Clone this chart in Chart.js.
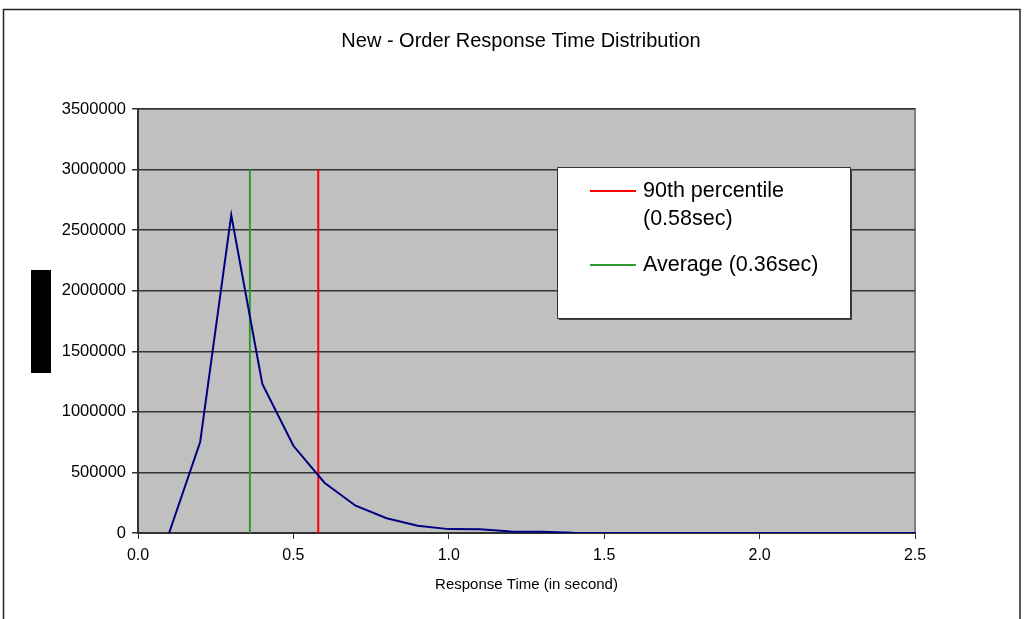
<!DOCTYPE html>
<html><head><meta charset="utf-8">
<script src="https://cdn.jsdelivr.net/npm/chart.js@4.4.0/dist/chart.umd.min.js"></script>
<style>html,body{margin:0;padding:0;background:#fff;overflow:hidden}#wrap{width:1024px;height:619px;position:relative}</style>
</head><body><div id="wrap"><canvas id="c" width="1024" height="619"></canvas></div>
<script>
// ---- data ----
const responseTimes = [0.1,0.2,0.3,0.4,0.5,0.6,0.7,0.8,0.9,1.0,1.1,1.2,1.3,1.4,1.5,1.6,1.7,1.8,1.9,2.0,2.1,2.2,2.3,2.4,2.5];
const transactionCounts = [0,750000,2625000,1230000,720000,415000,225000,122000,60000,32000,30000,12000,10000,1500,0,0,0,0,0,0,0,0,0,0,0];
const percentile90 = 0.58;
const averageTime = 0.36;
const markerTop = 3000000;
const yTickValues = [0,500000,1000000,1500000,2000000,2500000,3000000,3500000];
const xTickValues = [0.0,0.5,1.0,1.5,2.0,2.5];
const chartTitle = "New - Order Response Time Distribution";
const xAxisTitle = "Response Time (in second)";
const legendLabels = [["90th percentile","(0.58sec)"],["Average (0.36sec)"]];
const markerColors = ["#ff0000","#339933"];

const FONT = '"Liberation Sans", Arial, sans-serif';

const curve = responseTimes.map((x,i)=>({x, y: transactionCounts[i]}));
const markerValues = [percentile90, averageTime];

const decorPlugin = {
  id: 'decor',
  beforeDraw(chart) {
    const ctx = chart.ctx, a = chart.chartArea;
    ctx.save();
    ctx.fillStyle = '#fff';
    ctx.fillRect(0,0,chart.width,chart.height);
    ctx.strokeStyle = '#222';
    ctx.lineWidth = 1.5;
    ctx.strokeRect(3.5, 9.5, 1016.5, 700);
    ctx.fillStyle = '#c0c0c0';
    ctx.fillRect(a.left, a.top, a.right-a.left, a.bottom-a.top);
    ctx.strokeStyle = '#808080';
    ctx.lineWidth = 2;
    ctx.strokeRect(a.left, a.top, a.right-a.left, a.bottom-a.top);
    ctx.restore();
  },
  afterDraw(chart) {
    const ctx = chart.ctx;
    ctx.save();
    // title
    ctx.fillStyle = '#000';
    ctx.font = '20px ' + FONT;
    ctx.textAlign = 'center';
    ctx.textBaseline = 'middle';
    ctx.fillText(chartTitle, 521, 41);
    // redacted y-axis title block
    ctx.fillStyle = '#000';
    ctx.fillRect(31, 270, 20, 103);
    // legend box
    const bx = 557, by = 167, bw = 293, bh = 151;
    ctx.fillStyle = '#404040';
    ctx.fillRect(bx+2, by+2, bw, bh);
    ctx.fillStyle = '#fff';
    ctx.fillRect(bx, by, bw, bh);
    ctx.strokeStyle = '#333';
    ctx.lineWidth = 1;
    ctx.strokeRect(bx+0.5, by+0.5, bw, bh);
    const rows = [191, 265];
    ctx.font = '21.5px ' + FONT;
    ctx.textAlign = 'left';
    legendLabels.forEach((lines, i) => {
      const y = rows[i];
      ctx.strokeStyle = markerColors[i];
      ctx.lineWidth = 2;
      ctx.beginPath(); ctx.moveTo(590, y); ctx.lineTo(636, y); ctx.stroke();
      ctx.fillStyle = '#000';
      lines.forEach((t, j) => ctx.fillText(t, 643, y + j*28));
    });
    ctx.restore();
  }
};

new Chart(document.getElementById('c'), {
  type: 'scatter',
  data: {
    datasets: [
      { label: 'Distribution', data: curve, showLine: true, borderColor: '#000080', borderWidth: 2, pointRadius: 0, tension: 0 },
      { label: legendLabels[0].join(' '), data: [{x: markerValues[0], y: 0}, {x: markerValues[0], y: markerTop}], showLine: true, borderColor: markerColors[0], borderWidth: 2, pointRadius: 0 },
      { label: legendLabels[1].join(' '), data: [{x: markerValues[1], y: 0}, {x: markerValues[1], y: markerTop}], showLine: true, borderColor: markerColors[1], borderWidth: 2, pointRadius: 0 }
    ]
  },
  options: {
    responsive: false,
    animation: false,
    devicePixelRatio: 1,
    layout: { padding: { left: 0, right: 109, top: 109, bottom: 0 } },
    plugins: { legend: { display: false }, title: { display: false }, tooltip: { enabled: false } },
    scales: {
      x: {
        type: 'linear', min: 0, max: 2.5,
        afterBuildTicks(s) { s.ticks = xTickValues.map(v => ({value: v})); },
        afterFit(s) { s.height = 86; },
        ticks: { callback: v => Number(v).toFixed(1), color: '#000', font: { family: FONT, size: 16 }, padding: 7, maxRotation: 0, autoSkip: false },
        grid: { drawOnChartArea: false, drawTicks: true, tickLength: 6, color: '#333', lineWidth: 1 },
        border: { display: true, color: '#333', width: 2 },
        title: { display: true, text: xAxisTitle, color: '#000', font: { family: FONT, size: 15 }, padding: { top: 0, bottom: 25 } }
      },
      y: {
        type: 'linear', min: 0, max: 3500000,
        afterBuildTicks(s) { s.ticks = yTickValues.map(v => ({value: v})); },
        afterFit(s) { s.width = 138; },
        ticks: { callback: v => String(v), color: '#000', font: { family: FONT, size: 16.5 }, padding: 6, autoSkip: false },
        grid: { color: '#333', lineWidth: 1.5, tickLength: 6 },
        border: { display: true, color: '#333', width: 2 }
      }
    }
  },
  plugins: [decorPlugin]
});
</script>
</body></html>
